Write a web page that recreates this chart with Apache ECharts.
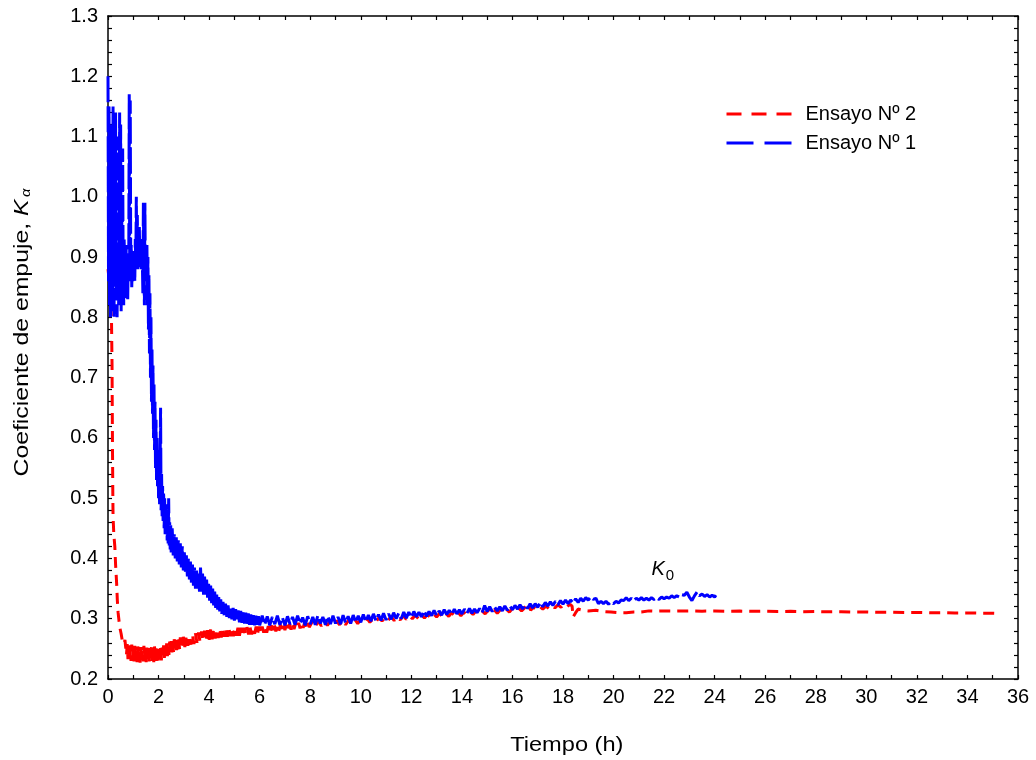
<!DOCTYPE html>
<html>
<head>
<meta charset="utf-8">
<script src="https://cdn.jsdelivr.net/npm/echarts@6/dist/echarts.min.js"></script>
<style>html,body{margin:0;padding:0;background:#fff}#c{width:1036px;height:760px}</style>
</head>
<body>
<div id="c"></div>
<script>
// Ensayo Nº 1 (blue) : [tiempo (h), K]
const ensayo1 = [
[0.00,1.20],[0.02,0.86],[0.04,1.15],[0.06,0.82],[0.08,1.08],[0.10,0.80],[0.12,1.12],[0.14,0.84],[0.16,1.02],[0.18,0.81],
[0.20,1.15],[0.22,0.86],[0.24,0.80],[0.26,1.13],[0.28,0.88],[0.30,1.14],[0.32,0.83],[0.34,1.05],[0.36,0.80],[0.38,0.95],
[0.40,1.10],[0.42,0.82],[0.44,0.90],[0.46,1.14],[0.48,0.86],[0.50,1.12],[0.52,0.81],[0.54,1.00],[0.56,0.84],[0.58,1.08],
[0.60,0.87],[0.62,0.82],[0.64,0.93],[0.66,0.86],[0.68,0.91],[0.70,0.83],[0.72,0.92],[0.74,0.85],[0.76,0.89],[0.78,0.83],
[0.80,0.90],[0.82,0.87],[0.84,1.17],[0.86,0.86],[0.88,1.16],[0.90,0.88],[0.92,0.92],[0.94,0.85],[0.96,0.90],[0.98,0.86],
[1.00,0.91],[1.02,0.87],[1.04,0.89],[1.06,0.86],[1.08,0.93],[1.10,0.88],[1.12,1.00],[1.14,0.89],[1.16,0.97],[1.18,0.88],
[1.20,0.92],[1.22,0.88],[1.24,0.95],[1.26,0.89],[1.28,0.93],[1.30,0.90],[1.32,0.88],[1.34,0.92],[1.36,0.89],[1.38,0.84],
[1.40,0.99],[1.42,0.88],[1.44,0.82],[1.46,0.99],[1.48,0.86],
[1.50,0.90],[1.52,0.86],[1.54,0.92],[1.56,0.82],[1.58,0.90],[1.60,0.78],[1.62,0.87],[1.64,0.74],[1.66,0.84],[1.68,0.70],
[1.70,0.80],[1.72,0.66],[1.74,0.75],[1.76,0.64],[1.78,0.72],[1.80,0.60],[1.82,0.69],[1.84,0.58],[1.86,0.66],[1.88,0.55],
[1.90,0.63],[1.92,0.53],[1.94,0.60],[1.96,0.52],[1.98,0.58],[2.00,0.50],[2.02,0.57],[2.04,0.49],[2.06,0.55],[2.08,0.65],
[2.10,0.48],[2.12,0.54],[2.14,0.47],[2.16,0.52],[2.18,0.46],[2.20,0.51],[2.22,0.45],[2.24,0.50],[2.26,0.44],[2.28,0.49],
[2.30,0.44],[2.32,0.48],[2.34,0.43],[2.36,0.47],[2.38,0.425],[2.40,0.50],[2.42,0.42],[2.44,0.46],[2.46,0.415],[2.48,0.455],
[2.50,0.41],[2.54,0.45],[2.58,0.405],[2.62,0.44],[2.66,0.40],[2.70,0.435],[2.74,0.395],[2.78,0.43],[2.82,0.39],[2.86,0.425],
[2.90,0.385],[2.94,0.42],[2.98,0.38],[3.02,0.41],[3.06,0.375],[3.10,0.405],[3.14,0.37],[3.18,0.40],[3.22,0.365],[3.26,0.395],
[3.30,0.36],[3.34,0.39],[3.38,0.355],[3.42,0.385],[3.46,0.35],[3.50,0.38],[3.54,0.35],[3.58,0.375],[3.62,0.345],[3.66,0.385],
[3.70,0.345],[3.74,0.375],[3.78,0.34],[3.82,0.37],[3.86,0.338],[3.90,0.365],[3.94,0.335],[3.98,0.358],[4.02,0.33],[4.06,0.355],
[4.10,0.326],[4.14,0.35],[4.18,0.322],[4.22,0.345],[4.26,0.318],[4.30,0.34],[4.34,0.315],[4.38,0.336],[4.42,0.312],[4.46,0.332],
[4.50,0.308],[4.55,0.328],[4.60,0.305],[4.65,0.325],[4.70,0.303],[4.75,0.322],[4.80,0.301],[4.85,0.320],[4.90,0.299],[4.95,0.318],
[5.00,0.297],[5.05,0.316],[5.10,0.296],[5.15,0.314],[5.20,0.294],[5.25,0.313],[5.30,0.293],[5.35,0.311],[5.40,0.292],[5.45,0.310],
[5.50,0.291],[5.55,0.309],[5.60,0.290],[5.65,0.307],[5.70,0.290],[5.75,0.306],[5.80,0.289],[5.85,0.305],[5.90,0.290],[5.95,0.304],
[6.00,0.289],[6.1,0.305],[6.2,0.290],[6.3,0.304],[6.4,0.289],[6.5,0.303],[6.6,0.291],[6.7,0.305],[6.8,0.290],[6.9,0.302],
[7.0,0.289],[7.1,0.304],[7.2,0.291],[7.3,0.303],[7.4,0.290],[7.5,0.305],[7.6,0.292],[7.7,0.302],[7.8,0.289],[7.9,0.304],
[8.0,0.291],[8.1,0.303],[8.2,0.290],[8.3,0.305],[8.4,0.292],[8.5,0.303],[8.6,0.290],[8.7,0.304],[8.8,0.291],[8.9,0.305],
[9.0,0.292],[9.1,0.303],[9.2,0.291],[9.3,0.306],[9.4,0.293],[9.5,0.304],[9.6,0.292],[9.7,0.306],[9.8,0.294],[9.9,0.305],
[10.0,0.294],[10.1,0.307],[10.2,0.295],[10.3,0.306],[10.4,0.296],[10.5,0.308],[10.6,0.297],[10.7,0.307],[10.8,0.297],[10.9,0.309],
[11.0,0.298],[11.1,0.308],[11.2,0.299],[11.3,0.310],[11.4,0.300],[11.5,0.309],[11.6,0.300],[11.7,0.311],[11.8,0.301],[11.9,0.311],
[12.0,0.302],[12.1,0.312],[12.2,0.303],[12.3,0.311],[12.4,0.303],[12.5,0.313],[12.6,0.304],[12.7,0.312],[12.8,0.305],[12.9,0.314],
[13.0,0.305],[13.1,0.313],[13.2,0.306],[13.3,0.315],[13.4,0.307],[13.5,0.314],[13.6,0.307],[13.7,0.316],[13.8,0.308],[13.9,0.315],
[14.0,0.308],[14.1,0.316],[14.2,0.309],[14.3,0.317],[14.4,0.309],[14.5,0.316],[14.6,0.310],[14.7,0.317],[14.8,0.310],[14.9,0.322],
[15.0,0.312],[15.1,0.320],[15.2,0.312],[15.3,0.319],[15.4,0.313],[15.5,0.320],[15.6,0.313],[15.7,0.321],[15.8,0.314],[15.9,0.321],
[16.0,0.315],[16.1,0.322],[16.2,0.316],[16.3,0.323],[16.4,0.316],[16.5,0.323],[16.6,0.317],[16.7,0.325],[16.8,0.318],[16.9,0.325],
[17.0,0.319],[17.1,0.327],[17.2,0.320],[17.3,0.327],[17.4,0.321],[17.5,0.328],[17.6,0.322],[17.7,0.329],[17.8,0.323],[17.9,0.330],
[18.0,0.324],[18.1,0.331],[18.2,0.325],[18.3,0.331],[18.4,0.326],[18.5,0.333],[18.6,0.327],[18.7,0.334],[18.8,0.329],[18.9,0.335],
[19.0,0.331],[19.1,0.336],[19.2,0.332],[19.3,0.334],[19.4,0.325],[19.5,0.329],[19.6,0.325],[19.7,0.329],[19.8,0.324],[19.9,0.328],
[20.0,0.325],[20.1,0.329],[20.2,0.326],[20.3,0.331],[20.4,0.330],[20.5,0.335],[20.6,0.330],[20.7,0.334],[20.8,0.330],[20.9,0.334],
[21.0,0.331],[21.1,0.335],[21.2,0.331],[21.3,0.334],[21.4,0.331],[21.5,0.335],[21.6,0.332],[21.7,0.335],[21.8,0.332],[21.9,0.336],
[22.0,0.333],[22.1,0.336],[22.2,0.334],[22.3,0.338],[22.4,0.335],[22.5,0.338],[22.6,0.336],[22.7,0.340],[22.8,0.339],[22.9,0.344],
[23.0,0.336],[23.1,0.330],[23.2,0.338],[23.3,0.344],[23.4,0.338],[23.5,0.341],[23.6,0.337],[23.7,0.340],[23.8,0.336],[23.9,0.339],
[24.0,0.336],[24.05,0.339]
];

// Ensayo Nº 2 (red) : [tiempo (h), K]
const ensayo2 = [
[0.00,0.88],[0.05,0.86],[0.10,0.83],[0.14,0.79],[0.16,0.72],[0.17,0.64],[0.18,0.57],[0.19,0.51],[0.20,0.47],[0.23,0.44],
[0.27,0.42],[0.30,0.39],[0.34,0.36],[0.37,0.33],[0.40,0.31],[0.44,0.295],[0.47,0.285],[0.52,0.275],[0.56,0.265],[0.60,0.268],
[0.64,0.258],[0.67,0.265],
[0.70,0.262],[0.73,0.240],[0.76,0.258],[0.79,0.233],[0.82,0.256],[0.85,0.235],[0.88,0.254],[0.91,0.230],[0.94,0.257],[0.97,0.232],
[1.00,0.252],[1.03,0.229],[1.06,0.255],[1.09,0.233],[1.12,0.251],[1.15,0.228],[1.18,0.254],[1.21,0.231],[1.24,0.250],[1.27,0.227],
[1.30,0.253],[1.33,0.232],[1.36,0.249],[1.39,0.229],[1.42,0.255],[1.45,0.230],[1.48,0.251],[1.51,0.228],[1.54,0.252],[1.57,0.233],
[1.60,0.254],[1.63,0.229],[1.66,0.250],[1.69,0.231],[1.72,0.256],[1.75,0.230],[1.78,0.252],[1.81,0.228],[1.84,0.254],[1.87,0.232],
[1.90,0.251],[1.93,0.230],[1.96,0.253],[1.99,0.229],[2.02,0.250],[2.05,0.232],[2.08,0.254],[2.11,0.231],[2.14,0.252],[2.17,0.234],
[2.20,0.256],[2.23,0.235],[2.26,0.257],[2.29,0.237],[2.32,0.259],[2.35,0.238],[2.38,0.260],[2.41,0.240],[2.44,0.262],[2.47,0.242],
[2.50,0.263],[2.53,0.244],[2.56,0.264],[2.59,0.245],[2.62,0.266],[2.65,0.247],[2.68,0.265],[2.71,0.248],[2.74,0.268],[2.77,0.249],
[2.80,0.267],[2.83,0.250],[2.86,0.269],[2.89,0.252],[2.92,0.268],[2.95,0.251],[2.98,0.270],
[3.04,0.253],[3.10,0.271],[3.16,0.255],[3.22,0.272],[3.28,0.257],[3.34,0.274],[3.40,0.258],[3.46,0.276],[3.52,0.260],[3.58,0.277],
[3.64,0.262],[3.70,0.279],[3.76,0.263],[3.82,0.280],[3.88,0.264],[3.94,0.281],[4.00,0.265],[4.06,0.282],[4.12,0.266],[4.18,0.283],
[4.24,0.267],[4.30,0.283],[4.36,0.268],[4.42,0.284],[4.48,0.269],[4.54,0.284],[4.60,0.270],[4.66,0.285],[4.72,0.270],[4.78,0.285],
[4.84,0.271],[4.90,0.285],[4.96,0.271],[5.02,0.284],[5.08,0.272],[5.14,0.285],[5.20,0.272],[5.26,0.285],[5.32,0.273],[5.38,0.285],
[5.44,0.273],[5.50,0.286],[5.56,0.274],[5.62,0.286],[5.68,0.274],[5.74,0.286],[5.80,0.275],[5.86,0.287],[5.92,0.276],[5.98,0.287],
[6.04,0.276],[6.10,0.287],[6.16,0.277],[6.22,0.288],[6.28,0.277],[6.34,0.288],[6.40,0.278],[6.46,0.289],[6.52,0.279],[6.58,0.289],
[6.64,0.279],[6.70,0.289],[6.76,0.280],[6.82,0.290],[6.88,0.281],[6.94,0.290],[7.00,0.281],[7.06,0.291],[7.12,0.282],[7.18,0.291],
[7.24,0.282],[7.30,0.292],[7.36,0.283],[7.42,0.292],[7.48,0.284],[7.54,0.293],[7.60,0.284],[7.66,0.293],[7.72,0.285],[7.78,0.294],
[7.84,0.285],[7.90,0.294],[7.96,0.286],
[8.08,0.295],[8.20,0.287],[8.32,0.296],[8.44,0.288],[8.56,0.296],[8.68,0.289],[8.80,0.297],[8.92,0.289],[9.04,0.297],[9.16,0.290],
[9.28,0.298],[9.40,0.290],[9.52,0.298],[9.64,0.291],[9.76,0.299],[9.88,0.292],[10.00,0.299],[10.12,0.293],[10.24,0.301],[10.36,0.294],
[10.48,0.300],[10.60,0.295],[10.72,0.302],[10.84,0.296],[10.96,0.302],[11.08,0.297],[11.20,0.304],[11.32,0.297],[11.44,0.303],[11.56,0.298],
[11.68,0.305],[11.80,0.299],[11.92,0.305],[12.04,0.300],[12.16,0.306],[12.28,0.300],[12.40,0.307],[12.52,0.301],[12.64,0.307],[12.76,0.302],
[12.88,0.308],[13.00,0.303],[13.12,0.309],[13.24,0.303],[13.36,0.309],[13.48,0.304],[13.60,0.310],[13.72,0.305],[13.84,0.311],[13.96,0.305],
[14.08,0.311],[14.20,0.306],[14.32,0.312],[14.44,0.307],[14.56,0.313],[14.68,0.307],[14.80,0.313],[14.92,0.308],[15.04,0.314],[15.16,0.309],
[15.28,0.315],[15.40,0.309],[15.52,0.315],[15.64,0.310],[15.76,0.316],[15.88,0.311],[16.00,0.317],[16.12,0.312],[16.24,0.318],[16.36,0.313],
[16.48,0.318],[16.60,0.326],[16.72,0.314],[16.84,0.319],[16.96,0.315],[17.08,0.320],[17.20,0.316],[17.32,0.321],[17.44,0.317],[17.56,0.322],
[17.68,0.318],[17.80,0.323],[17.92,0.319],[18.04,0.324],[18.16,0.320],[18.28,0.324],[18.36,0.321],
[18.40,0.303],[18.5,0.310],[18.6,0.316],[18.8,0.314],[19.0,0.313],[19.3,0.314],[19.6,0.312],[19.9,0.311],[20.2,0.310],[20.5,0.310],
[20.8,0.311],[21.1,0.311],[21.4,0.313],[21.7,0.3125],[22.0,0.3130],
[22.5,0.3126],[23.0,0.3130],[23.5,0.3125],[24.0,0.3129],[24.5,0.3124],[25.0,0.3127],[25.5,0.3122],[26.0,0.3125],[26.5,0.3120],[27.0,0.3122],
[27.5,0.3117],[28.0,0.3119],[28.5,0.3114],[29.0,0.3116],[29.5,0.3111],[30.0,0.3112],[30.5,0.3107],[31.0,0.3109],[31.5,0.3104],[32.0,0.3105],
[32.5,0.3100],[33.0,0.3101],[33.5,0.3096],[34.0,0.3097],[34.5,0.3092],[35.0,0.3091],[35.2,0.3088]
];

const seriesNames = ['Ensayo Nº 2', 'Ensayo Nº 1'];
const xRange = [0, 36];
const yRange = [0.2, 1.3];
const xTitle = 'Tiempo (h)';
const yTitle = 'Coeficiente de empuje, ';
const k0Anchor = [21.95, 0.382];

const FONT = 'Liberation Sans, Arial, sans-serif';
const chart = echarts.init(document.getElementById('c'), null, {renderer: 'canvas'});

function isMult(v, step) { return Math.abs(v / step - Math.round(v / step)) < 1e-6; }

const axisLineStyle = {show: true, onZero: false, lineStyle: {color: '#000', width: 1.5}};
const tickStyle = {show: true, inside: true, length: 4, lineStyle: {color: '#000', width: 1.2}};

const option = {
  animation: false,
  backgroundColor: '#fff',
  grid: {left: 108, right: 18, top: 16, bottom: 81},
  legend: {
    orient: 'vertical', left: 720, top: 99, itemWidth: 65, itemHeight: 18, itemGap: 9,
    textStyle: {fontFamily: FONT, fontSize: 20, color: '#000', padding: [0, 0, 0, 9]},
    data: [
      {name: seriesNames[0], itemStyle: {opacity: 0}, lineStyle: {color: '#ff0000', width: 3, type: [15, 10]}},
      {name: seriesNames[1], itemStyle: {opacity: 0}, lineStyle: {color: '#0000ff', width: 3, type: [27, 11]}}
    ]
  },
  xAxis: [
    {type: 'value', min: xRange[0], max: xRange[1], interval: 1, position: 'bottom',
     axisLine: axisLineStyle, axisTick: tickStyle, splitLine: {show: false},
     axisLabel: {fontFamily: FONT, fontSize: 20, color: '#000', margin: 8,
       formatter: v => isMult(v, 2) ? String(Math.round(v)) : ''}},
    {type: 'value', min: xRange[0], max: xRange[1], interval: 1, position: 'top',
     axisLine: axisLineStyle, axisTick: tickStyle, splitLine: {show: false}, axisLabel: {show: false}}
  ],
  yAxis: [
    {type: 'value', min: yRange[0], max: yRange[1], interval: 0.02, position: 'left',
     axisLine: axisLineStyle, axisTick: tickStyle, splitLine: {show: false},
     axisLabel: {fontFamily: FONT, fontSize: 20, color: '#000', margin: 10,
       formatter: v => isMult(v, 0.1) ? v.toFixed(1) : ''}},
    {type: 'value', min: yRange[0], max: yRange[1], interval: 0.02, position: 'right',
     axisLine: axisLineStyle, axisTick: tickStyle, splitLine: {show: false}, axisLabel: {show: false}}
  ],
  series: [
    {name: seriesNames[0], type: 'line', data: ensayo2, showSymbol: false, symbol: 'none',
     xAxisIndex: 0, yAxisIndex: 0, z: 2,
     lineStyle: {color: '#ff0000', width: 3, type: [11, 7]}, itemStyle: {color: '#ff0000'}},
    {name: seriesNames[1], type: 'line', data: ensayo1, showSymbol: false, symbol: 'none',
     xAxisIndex: 0, yAxisIndex: 0, z: 3,
     lineStyle: {color: '#0000ff', width: 3, type: [26, 4]}, itemStyle: {color: '#0000ff'}}
  ]
};
chart.setOption(option);

const p = chart.convertToPixel({gridIndex: 0}, k0Anchor);
const g0 = chart.convertToPixel({gridIndex: 0}, [18.15, 0.2]);
const gm = chart.convertToPixel({gridIndex: 0}, [0, 0.75]);
chart.setOption({
  graphic: [
    {type: 'text', x: p[0], y: p[1], z: 10,
     style: {text: '{k|K}{s|0}', fill: '#000', align: 'center', verticalAlign: 'middle',
       rich: {
         k: {fontFamily: FONT, fontSize: 20, fontStyle: 'italic', fill: '#000'},
         s: {fontFamily: FONT, fontSize: 15, fill: '#000', padding: [14, 0, 0, 1]}
       }}},
    {type: 'text', x: g0[0], y: g0[1] + 66, scaleX: 1.18, z: 10,
     style: {text: xTitle, fill: '#000', font: '20px ' + FONT, align: 'center', verticalAlign: 'middle'}},
    {type: 'text', x: gm[0] - 86, y: gm[1] - 15, rotation: Math.PI / 2, scaleX: 1.24, z: 10,
     style: {text: '{n|' + yTitle + '}{k|K}{a|α}', fill: '#000', align: 'center', verticalAlign: 'middle',
       rich: {
         n: {fontFamily: FONT, fontSize: 20, fill: '#000'},
         k: {fontFamily: FONT, fontSize: 20, fontStyle: 'italic', fill: '#000'},
         a: {fontFamily: FONT, fontSize: 12, fontStyle: 'italic', fill: '#000', padding: [10, 0, 0, 2]}
       }}}
  ]
});
</script>
</body>
</html>
